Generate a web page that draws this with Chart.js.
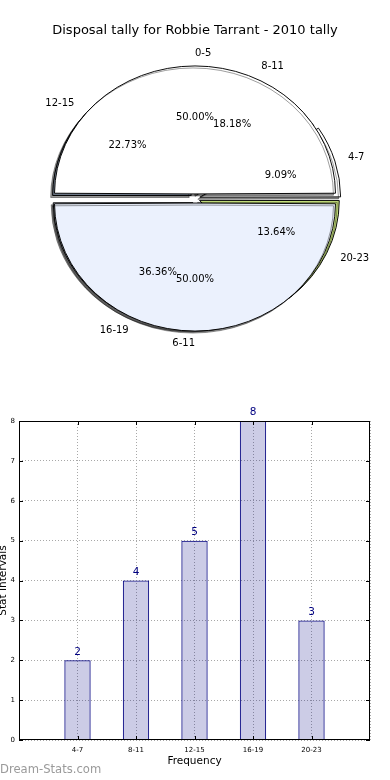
<!DOCTYPE html>
<html>
<head>
<meta charset="utf-8">
<title>Disposal tally for Robbie Tarrant - 2010 tally</title>
<script src="https://cdn.jsdelivr.net/npm/chart.js@4.4.1/dist/chart.umd.min.js"></script>
<style>
    body { margin: 0; background: #fff; font-family: 'DejaVu Sans', sans-serif; }
    #page { position: relative; width: 390px; height: 780px; overflow: hidden; }
    .pie { position: absolute; left: 0; top: 0; }
    #title { position: absolute; top: 22px; left: 0; width: 390px; text-align: center; font-size: 13px; color: #000; }
    #bars { position: absolute; left: -3px; top: 400px; }
    #credit { position: absolute; left: 0; top: 762px; font-size: 11.6px; color: #9a9a9a; }
</style>
</head>
<body>
<div id="page">
    <canvas id="pieBack" class="pie" width="390" height="397"></canvas>
    <canvas id="pieFront" class="pie" width="390" height="397"></canvas>
    <div id="title">Disposal tally for Robbie Tarrant - 2010 tally</div>
    <canvas id="bars" width="393" height="380"></canvas>
    <div id="credit">Dream-Stats.com</div>
</div>
<script>
// half pie (drawn on top)
const halfLabels = ['0-5', '6-11'];
const halfValues = [1, 1];
const halfColors = ['#ffffff', '#ebf1fd'];

// frequency groups
const categories = ['4-7', '8-11', '12-15', '16-19', '20-23'];
const counts = [2, 4, 5, 8, 3];
const sliceColors = ['#ffffff', '#ffffff', '#c3d6f3', '#e3ecfb', '#c5e07c'];

const yTicks = [0, 1, 2, 3, 4, 5, 6, 7, 8];

const FONT = 'DejaVu Sans';
const PIE_R = 140.5;     // drawn radius before squash
const EXPLODE = 5;       // px the wedges are pushed out
const SQUASH = 0.911;    // matplotlib axes weren't square, so the pie is an ellipse

// squash the wedges vertically + matplotlib-like drop shadow
const squash = {
    id: 'squash',
    beforeDatasetsDraw(chart) {
        const ctx = chart.ctx;
        const arc = chart.getDatasetMeta(0).data[0];
        ctx.save();
        ctx.translate(arc.x, arc.y);
        ctx.scale(1, SQUASH);
        ctx.translate(-arc.x, -arc.y);
        ctx.shadowColor = 'rgba(0,0,0,0.4)';
        ctx.shadowOffsetX = -2;
        ctx.shadowOffsetY = 2;
        ctx.shadowBlur = 0;
    },
    afterDatasetsDraw(chart) {
        chart.ctx.restore();
    }
};

function drawPieText(ctx, chart) {
    const meta = chart.getDatasetMeta(0);
    const values = chart.data.datasets[0].data;
    const total = values.reduce((a, b) => a + b, 0);
    ctx.save();
    ctx.font = '10px "' + FONT + '"';
    ctx.fillStyle = '#000';
    ctx.textBaseline = 'middle';
    meta.data.forEach((arc, i) => {
        const mid = (arc.startAngle + arc.endAngle) / 2;
        const theta = 2 * Math.PI - mid; // counter-clockwise angle like matplotlib
        const c = Math.cos(theta);
        const s = Math.sin(theta);
        const at = f => {
            const d = EXPLODE + f * PIE_R;
            return [arc.x + c * d, arc.y - s * d * SQUASH];
        };
        const lp = at(1.1);
        ctx.textAlign = c > 0 ? 'left' : 'right';
        ctx.fillText(chart.data.labels[i], lp[0], lp[1]);
        const pp = at(0.6);
        ctx.textAlign = 'center';
        ctx.fillText((values[i] / total * 100).toFixed(2) + '%', pp[0], pp[1]);
    });
    ctx.restore();
}

function pieConfig(labels, values, colors, radius, extraPlugins) {
    // matplotlib goes counter-clockwise from 3 o'clock, Chart.js clockwise -> reverse order
    return {
        type: 'pie',
        data: {
            labels: labels.slice().reverse(),
            datasets: [{
                data: values.slice().reverse(),
                backgroundColor: colors.slice().reverse(),
                borderColor: '#000',
                borderWidth: 1,
                offset: EXPLODE * 4,
                hoverOffset: 0,
                clip: false
            }]
        },
        options: {
            responsive: false,
            animation: false,
            events: [],
            rotation: 90,
            radius: radius,
            layout: { padding: 0 },
            plugins: { legend: { display: false }, tooltip: { enabled: false } }
        },
        plugins: [squash].concat(extraPlugins || [])
    };
}

const backPie = new Chart(document.getElementById('pieBack'),
    pieConfig(categories, counts, sliceColors, PIE_R - 2));

const pieLabels = {
    id: 'pieLabels',
    afterDraw(chart) {
        drawPieText(chart.ctx, chart);
        drawPieText(chart.ctx, backPie);
    }
};

new Chart(document.getElementById('pieFront'),
    pieConfig(halfLabels, halfValues, halfColors, PIE_R - EXPLODE, [pieLabels]));

// ---- bar chart ----
const frame = {
    id: 'frame',
    afterDraw(chart) {
        const { ctx, chartArea: a } = chart;
        const xs = chart.scales.x;
        const ys = chart.scales.y;
        ctx.save();
        ctx.strokeStyle = '#000';
        ctx.lineWidth = 1;
        ctx.strokeRect(a.left + 0.5, a.top + 0.5, a.right - a.left - 1, a.bottom - a.top - 1);
        ctx.beginPath();
        categories.forEach((c, i) => {
            const x = Math.round(xs.getPixelForValue(i + 1)) + 0.5;
            ctx.moveTo(x, a.bottom); ctx.lineTo(x, a.bottom - 4);
            ctx.moveTo(x, a.top); ctx.lineTo(x, a.top + 4);
        });
        yTicks.forEach(v => {
            const y = Math.round(ys.getPixelForValue(v)) + 0.5;
            ctx.moveTo(a.left, y); ctx.lineTo(a.left + 4, y);
            ctx.moveTo(a.right, y); ctx.lineTo(a.right - 4, y);
        });
        ctx.stroke();
        ctx.restore();
    }
};

const valueLabels = {
    id: 'valueLabels',
    afterDatasetsDraw(chart) {
        const ctx = chart.ctx;
        const ds = chart.data.datasets[0];
        ctx.save();
        ctx.font = '10.5px "' + FONT + '"';
        ctx.fillStyle = '#000080';
        ctx.textAlign = 'center';
        ctx.textBaseline = 'bottom';
        chart.getDatasetMeta(0).data.forEach((bar, i) => {
            if (ds.data[i] == null) return;
            ctx.fillText(String(ds.data[i]), bar.x, bar.y - 3);
        });
        ctx.restore();
    }
};

new Chart(document.getElementById('bars'), {
    type: 'bar',
    data: {
        labels: [''].concat(categories, ['']),
        datasets: [{
            data: [null].concat(counts, [null]),
            backgroundColor: 'rgba(0,0,128,0.2)',
            borderColor: '#000080',
            borderWidth: 1,
            barPercentage: 0.45,
            categoryPercentage: 1
        }]
    },
    options: {
        responsive: false,
        animation: false,
        events: [],
        layout: { padding: { top: 21, right: 20, bottom: 10, left: 0 } },
        plugins: { legend: { display: false }, tooltip: { enabled: false } },
        scales: {
            x: {
                offset: false,
                grid: { offset: false, color: '#a8a8a8', drawTicks: false },
                border: { display: false, dash: [1, 2] },
                ticks: { font: { family: FONT, size: 7 }, color: '#000', padding: 6, maxRotation: 0, autoSkip: false },
                title: { display: true, text: 'Frequency', color: '#000', font: { family: FONT, size: 10.5 }, padding: { top: 0, bottom: 2 } },
                afterFit(s) { s.height = 30; }
            },
            y: {
                min: 0,
                max: 8,
                afterBuildTicks(s) { s.ticks = yTicks.map(v => ({ value: v })); },
                grid: { color: '#a8a8a8', drawTicks: false },
                border: { display: false, dash: [1, 2] },
                ticks: { font: { family: FONT, size: 7 }, color: '#000', padding: 4 },
                title: { display: true, text: 'Stat Intervals', color: '#000', font: { family: FONT, size: 10.5 }, padding: 0 },
                afterFit(s) { s.width = 22; }
            }
        }
    },
    plugins: [frame, valueLabels]
});
</script>
</body>
</html>
